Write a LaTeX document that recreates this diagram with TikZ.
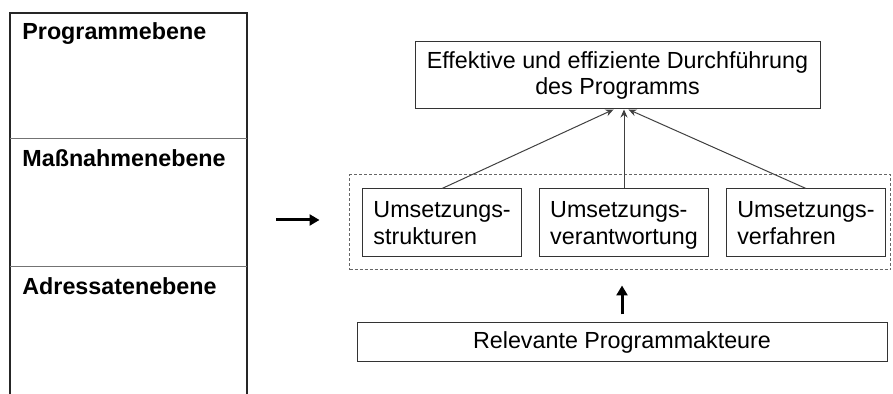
\documentclass[tikz,border=0pt]{standalone}
\usepackage{fontspec}
\setmainfont{Liberation Sans}
\usetikzlibrary{arrows.meta,positioning,matrix}

\begin{document}
\begin{tikzpicture}[x=0.5pt,y=-0.5pt,font=\fontsize{11.65}{13.4}\selectfont,
  box/.style={draw=black!80,line width=0.5pt,inner xsep=5.25pt,inner ysep=0pt},
  teil/.style={box,align=left,anchor=center,text depth=0pt,minimum height=34pt},
  ebene/.style={anchor=base west,inner sep=0pt,font=\fontsize{11.65}{13.4}\selectfont\bfseries},
  frame/.style={draw=black!60,line width=0.5pt,dash pattern=on 1.5pt off 1pt},
  column/.style={draw=black!85,line width=1.25pt},
  divider/.style={draw=black!55,line width=0.5pt},
  edge/.style={draw=black!75,line width=0.5pt,-{Stealth[length=4pt,width=3.5pt]}},
  bigarrow/.style={line width=1.5pt,-{Triangle[length=5pt,width=5.5pt]}}]
\useasboundingbox (0,0) rectangle (893,394);

% left column
\draw [column] (10,394) -- (10,13) -- (247,13) -- (247,394);
\draw [divider] (10,139) -- (247,139);
\draw [divider] (10,267) -- (247,267);
\node (prog)[ebene] at (22,40) {Programmebene};
\node (mass)[ebene] at (22,167) {Maßnahmenebene};
\node (adr)[ebene] at (22,295) {Adressatenebene};

% right part
\node (ziel)[box,align=center,minimum width=202.5pt,minimum height=33.5pt] at (617.5,75.5)
  {Effektive und effiziente Durchführung\\des Programms};
\node (umsetzung)[frame,minimum width=270.5pt,minimum height=47.5pt] at (620,222.5) {};
\matrix[column sep=8.75pt,inner sep=0pt] at (624,223)
{
\node(struktur)[teil]{Umsetzungs-\\strukturen}; \pgfmatrixnextcell \node(verantw)[teil]{Umsetzungs-\\verantwortung}; \pgfmatrixnextcell \node(verfahren)[teil]{Umsetzungs-\\verfahren};\\
};
\node (akteure)[box,minimum width=265pt,minimum height=19.5pt] at (622,342.5) {Relevante Programmakteure};
\coordinate (links) at (276,220);

\draw [edge] (struktur.north) to ([xshift=-2pt]ziel.south);
\draw [edge] (verantw.north) to (verantw.north |- ziel.south);
\draw [edge] (verfahren.north) to ([xshift=5.5pt]ziel.south);
\draw [bigarrow,shorten >=14.75pt] (links) to (umsetzung.west |- links);
\draw [bigarrow,shorten <=4pt,shorten >=7.5pt] (akteure.north) to (akteure.north |- umsetzung.south);
\end{tikzpicture}
\end{document}
